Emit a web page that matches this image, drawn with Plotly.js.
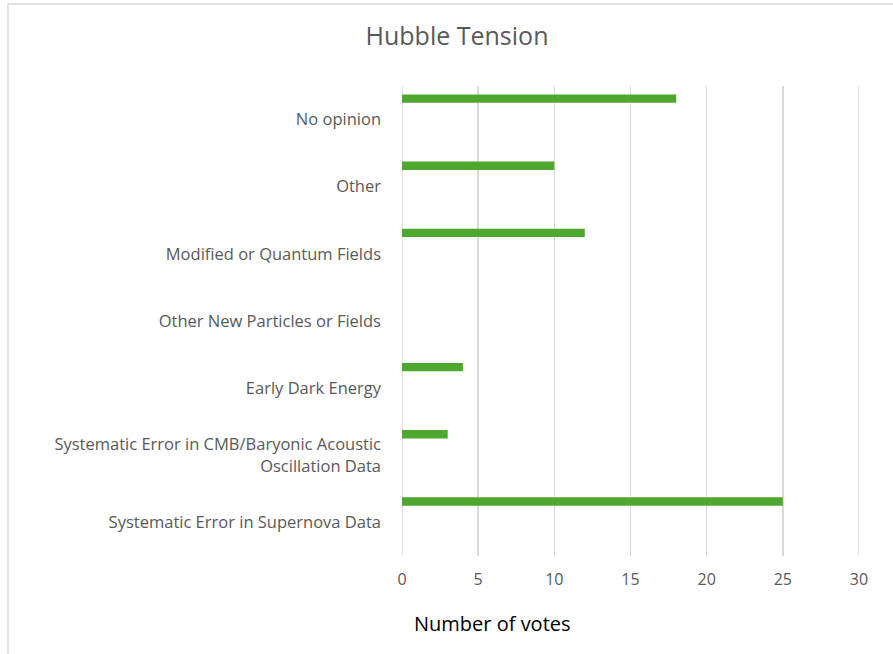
<!DOCTYPE html>
<html>
<head>
<meta charset="utf-8">
<script src="https://cdn.plot.ly/plotly-3.0.1.min.js"></script>
<style>
  html, body { margin: 0; padding: 0; background: #fff; }
  #chart { width: 893px; height: 654px; }
</style>
</head>
<body>
<div id="chart"></div>
<script>
// Categories listed bottom to top
const categories = [
  "Systematic Error in Supernova Data",
  "Systematic Error in CMB/Baryonic Acoustic<br>Oscillation Data",
  "Early Dark Energy",
  "Other New Particles or Fields",
  "Modified or Quantum Fields",
  "Other",
  "No opinion"
];
const votes = [25, 3, 4, 0, 12, 10, 18];
const xTickValues = [0, 5, 10, 15, 20, 25, 30];
const chartTitle = "Hubble Tension";
const xAxisTitle = "Number of votes";

const W = 893, H = 654;
const M = { l: 402, r: 34, t: 86, b: 98 };
const pw = W - M.l - M.r, ph = H - M.t - M.b;
const px = v => (v - M.l) / pw;
const py = v => 1 - (v - M.t) / ph;

const font = "'Open Sans', 'Noto Sans', sans-serif";
const gridColor = "#d9d9d9";

const trace = {
  type: "bar",
  orientation: "h",
  y: categories,
  x: votes,
  offset: 0.25,
  width: 0.125,
  marker: { color: "#4ea72e", line: { width: 0 } },
  hoverinfo: "x+y"
};

// edge gridlines (Plotly drops gridlines at the range ends)
const edgeLines = [xTickValues[0], xTickValues[xTickValues.length - 1]].map(v => ({
  type: "line", xref: "x", yref: "paper",
  x0: v, x1: v, y0: 0, y1: 1,
  line: { color: gridColor, width: 1.5 }, layer: "below"
}));

const layout = {
  width: W, height: H,
  margin: M,
  paper_bgcolor: "#ffffff",
  plot_bgcolor: "#ffffff",
  showlegend: false,
  title: {
    text: chartTitle,
    font: { family: font, size: 25, color: "#595959" },
    xref: "container", yref: "container",
    x: 457 / W, y: 1 - 36 / H, xanchor: "center", yanchor: "middle"
  },
  xaxis: {
    range: [0, 30],
    tickvals: xTickValues,
    ticktext: xTickValues.map(String),
    showgrid: true, gridcolor: gridColor, gridwidth: 1.5,
    zeroline: false, showline: false,
    ticks: "",
    ticklabelstandoff: 12,
    tickfont: { family: font, size: 16, color: "#595959" },
    fixedrange: true
  },
  yaxis: {
    type: "category",
    categoryorder: "array",
    categoryarray: categories,
    range: [-0.5, 6.5],
    showgrid: false, zeroline: false, showline: false,
    ticks: "",
    ticklabelstandoff: 20,
    tickfont: { family: font, size: 16.5, color: "#595959" },
    fixedrange: true
  },
  annotations: [{
    text: xAxisTitle,
    xref: "paper", yref: "paper",
    x: px(492), y: py(623),
    xanchor: "center", yanchor: "middle",
    showarrow: false,
    font: { family: font, size: 20, color: "#000000" }
  }],
  shapes: [{
    type: "rect", xref: "paper", yref: "paper",
    x0: px(8), x1: px(W + 20), y0: py(4), y1: py(H + 20),
    line: { color: gridColor, width: 1.5 },
    fillcolor: "rgba(0,0,0,0)", layer: "below"
  }].concat(edgeLines)
};

Plotly.newPlot("chart", [trace], layout, { displayModeBar: false, staticPlot: true });
</script>
</body>
</html>
